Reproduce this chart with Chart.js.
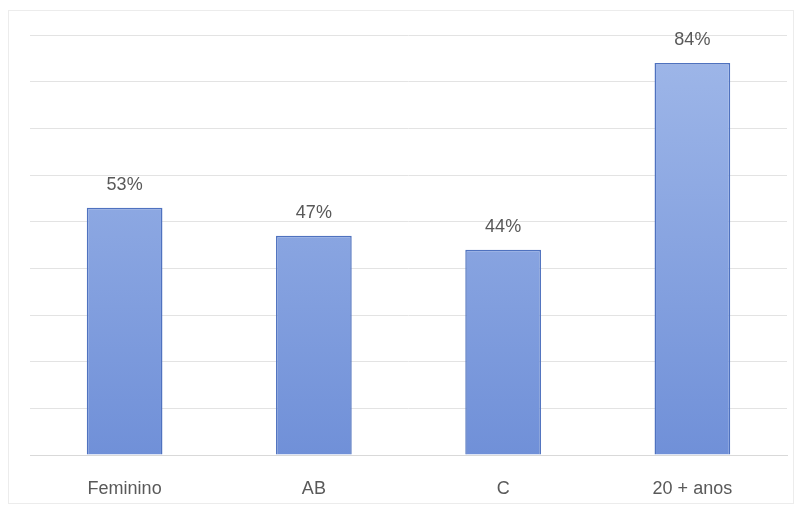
<!DOCTYPE html>
<html>
<head>
<meta charset="utf-8">
<script src="https://cdn.jsdelivr.net/npm/chart.js@4"></script>
<style>
  html, body { margin: 0; padding: 0; background: #fff; }
  #wrap { position: relative; width: 803px; height: 511px; }
  #frame { position: absolute; left: 8px; top: 10px; width: 786px; height: 494px; border: 1px solid #ececec; box-sizing: border-box; }
  canvas { display: block; }
</style>
</head>
<body>
<div id="wrap">
  <div id="frame"></div>
  <canvas id="myChart" width="803" height="511"></canvas>
</div>
<script>
const categories = ["Feminino", "AB", "C", "20 + anos"];
const values = [53, 47, 44, 84];
const yMax = 90;
const yStep = 10;

// value labels over the bars
const barLabels = {
  id: "barLabels",
  afterDatasetsDraw(chart) {
    const ctx = chart.ctx;
    const meta = chart.getDatasetMeta(0);
    ctx.save();
    ctx.font = "18px 'Liberation Sans', sans-serif";
    ctx.fillStyle = "#595959";
    ctx.textAlign = "center";
    ctx.textBaseline = "bottom";
    meta.data.forEach((bar, i) => {
      ctx.fillText(values[i] + "%", bar.x, bar.y - 14);
    });
    ctx.restore();
  }
};

function barFill(context) {
  const chart = context.chart;
  const area = chart.chartArea;
  if (!area) return "#7d9bdc";
  const g = chart.ctx.createLinearGradient(0, area.top, 0, area.bottom);
  g.addColorStop(0, "#a0b8e9");
  g.addColorStop(1, "#7090d8");
  return g;
}

const ctx = document.getElementById("myChart").getContext("2d");
const myChart = new Chart(ctx, {
  type: "bar",
  data: {
    labels: categories,
    datasets: [
      {
        data: values,
        backgroundColor: barFill,
        borderColor: "#4f72bf",
        borderWidth: 1.5,
        categoryPercentage: 0.8,
        barPercentage: 0.5
      }
    ]
  },
  plugins: [barLabels],
  options: {
    responsive: false,
    animation: false,
    layout: { padding: { left: 30, right: 16, top: 35, bottom: 0 } },
    plugins: {
      legend: { display: false },
      tooltip: { enabled: false }
    },
    scales: {
      x: {
        grid: { display: false },
        border: { color: "#d9d9d9" },
        afterFit: (scale) => { scale.height = 56; },
        ticks: {
          color: "#595959",
          font: { family: "'Liberation Sans', sans-serif", size: 18 },
          padding: 15
        }
      },
      y: {
        min: 0,
        max: yMax,
        ticks: { display: false, stepSize: yStep },
        border: { display: false },
        grid: { color: "#e3e3e3", drawTicks: false }
      }
    }
  }
});
</script>
</body>
</html>
